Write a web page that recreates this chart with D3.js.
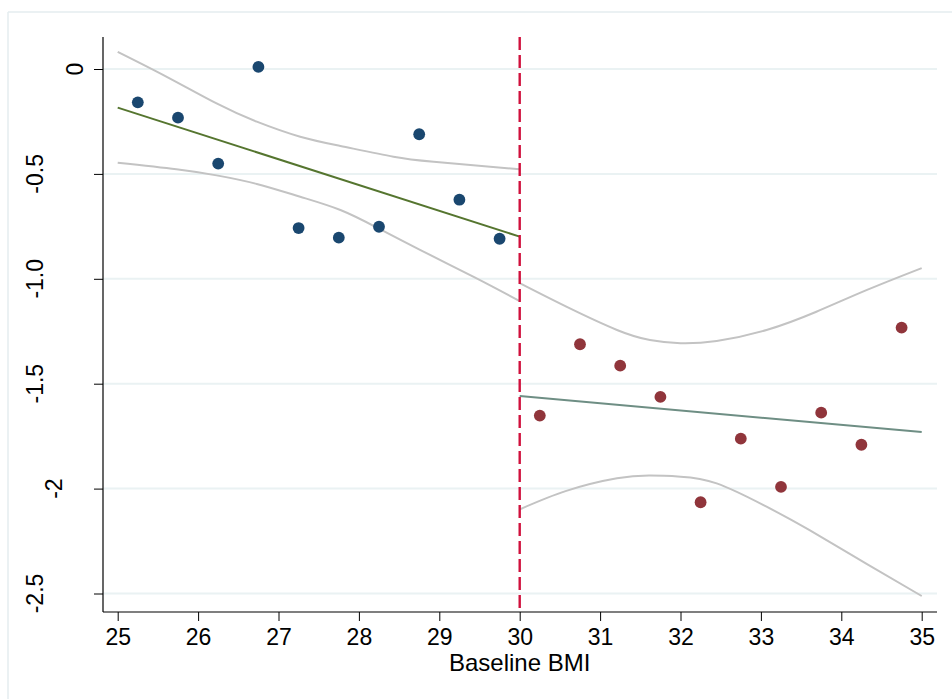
<!DOCTYPE html>
<html>
<head>
<meta charset="utf-8">
<script src="https://cdn.jsdelivr.net/npm/d3@7"></script>
<style>
  html, body { margin: 0; padding: 0; background: #ffffff; }
  svg { display: block; }
  text { font-family: "Liberation Sans", Arial, Helvetica, sans-serif; fill: #000; }
</style>
</head>
<body>
<svg id="chart" width="952" height="699"></svg>
<script>
// ---------- data ----------
const xTicks = [25, 26, 27, 28, 29, 30, 31, 32, 33, 34, 35];
const yTicks = [0, -0.5, -1.0, -1.5, -2, -2.5];
const yTickLabels = ["0", "-0.5", "-1.0", "-1.5", "-2", "-2.5"];
const xLabel = "Baseline BMI";
const cutoff = 30;

const belowX = [25.25, 25.75, 26.25, 26.75, 27.25, 27.75, 28.25, 28.75, 29.25, 29.75];
const belowY = [-0.159, -0.232, -0.451, 0.010, -0.758, -0.804, -0.752, -0.311, -0.623, -0.809];
const aboveX = [30.25, 30.75, 31.25, 31.75, 32.25, 32.75, 33.25, 33.75, 34.25, 34.75];
const aboveY = [-1.652, -1.312, -1.414, -1.563, -2.065, -1.762, -1.992, -1.638, -1.791, -1.233];

const fitBelowX = [25, 30];
const fitBelowY = [-0.184, -0.799];
const fitAboveX = [30, 35];
const fitAboveY = [-1.559, -1.730];

const ciBelowUpX = [25, 25.61, 26.23, 26.73, 27.27, 27.77, 28.43, 28.93, 30];
const ciBelowUpY = [0.082, -0.037, -0.164, -0.251, -0.323, -0.367, -0.418, -0.442, -0.478];
const ciBelowLoX = [25, 25.73, 26.23, 26.73, 27.27, 27.77, 28.22, 28.76, 29.44, 30];
const ciBelowLoY = [-0.447, -0.478, -0.507, -0.548, -0.609, -0.672, -0.755, -0.862, -0.993, -1.106];
const ciAboveUpX = [30, 30.58, 31.21, 31.62, 32.0, 32.45, 33.07, 33.69, 34.32, 35];
const ciAboveUpY = [-1.021, -1.133, -1.244, -1.292, -1.307, -1.296, -1.244, -1.157, -1.053, -0.949];
const ciAboveLoX = [30, 30.58, 31.21, 31.62, 32.0, 32.45, 33.07, 33.6, 34.32, 35];
const ciAboveLoY = [-2.099, -2.011, -1.951, -1.938, -1.943, -1.975, -2.086, -2.197, -2.360, -2.512];

// ---------- layout ----------
const svg = d3.select("#chart");
const plotLeft = 103, plotRight = 937, plotTop = 37, plotBottom = 612;

const x = d3.scaleLinear().domain([25, 35]).range([117.7, 921.7]);
const y = d3.scaleLinear().domain([0, -2.5]).range([69, 593.5]);

// outer frame (light)
svg.append("line").attr("x1", 8).attr("x2", 8).attr("y1", 12).attr("y2", 699)
  .attr("stroke", "#e4ecef").attr("stroke-width", 1.5);
svg.append("line").attr("x1", 8).attr("x2", 952).attr("y1", 12).attr("y2", 12)
  .attr("stroke", "#e4ecef").attr("stroke-width", 1.5);

// gridlines
svg.append("g").selectAll("line").data(yTicks).join("line")
  .attr("x1", plotLeft).attr("x2", plotRight)
  .attr("y1", d => y(d)).attr("y2", d => y(d))
  .attr("stroke", "#eaf2f3").attr("stroke-width", 2);

// y axis
const yAxis = d3.axisLeft(y).tickValues(yTicks).tickSize(9).tickFormat((d, i) => yTickLabels[i]);
const gy = svg.append("g").attr("transform", `translate(${plotLeft},0)`).call(yAxis);
gy.select(".domain").remove();
gy.selectAll(".tick line").attr("stroke", "#000").attr("stroke-width", 1);
gy.selectAll(".tick text").remove();
svg.append("line").attr("x1", plotLeft).attr("x2", plotLeft).attr("y1", plotTop).attr("y2", plotBottom)
  .attr("stroke", "#000").attr("stroke-width", 1.2);
// rotated y labels (baseline position depends on label length, as in the reference)
const baseX = s => s.length === 1 ? 83 : (s.length === 2 ? 62 : 43);
svg.append("g").selectAll("text").data(yTicks).join("text")
  .attr("transform", (d, i) => `translate(${baseX(yTickLabels[i])},${y(d)}) rotate(-90)`)
  .attr("text-anchor", "middle")
  .attr("font-size", 23)
  .text((d, i) => yTickLabels[i]);

// x axis
const xAxis = d3.axisBottom(x).tickValues(xTicks).tickSize(9).tickFormat(d3.format("d"));
const gx = svg.append("g").attr("transform", `translate(0,${plotBottom})`).call(xAxis);
gx.select(".domain").remove();
gx.selectAll(".tick line").attr("stroke", "#000").attr("stroke-width", 1);
gx.selectAll(".tick text").attr("font-size", 23).attr("dy", 0).attr("y", 33)
  .attr("fill", "#000").style("font-family", "'Liberation Sans', Arial, sans-serif");
svg.append("line").attr("x1", plotLeft).attr("x2", plotRight).attr("y1", plotBottom).attr("y2", plotBottom)
  .attr("stroke", "#000").attr("stroke-width", 1.2);

svg.append("text").attr("x", x(cutoff)).attr("y", 671).attr("text-anchor", "middle")
  .attr("font-size", 24).text(xLabel);

// CI lines
const line = d3.line().x(d => x(d[0])).y(d => y(d[1])).curve(d3.curveNatural);
const zip = (a, b) => a.map((v, i) => [v, b[i]]);
[[ciBelowUpX, ciBelowUpY], [ciBelowLoX, ciBelowLoY], [ciAboveUpX, ciAboveUpY], [ciAboveLoX, ciAboveLoY]]
  .forEach(([xs, ys]) => {
    svg.append("path").attr("d", line(zip(xs, ys)))
      .attr("fill", "none").attr("stroke", "#c3c3c3").attr("stroke-width", 2);
  });

// fitted lines
svg.append("path").attr("d", line(zip(fitBelowX, fitBelowY)))
  .attr("fill", "none").attr("stroke", "#55752f").attr("stroke-width", 2);
svg.append("path").attr("d", line(zip(fitAboveX, fitAboveY)))
  .attr("fill", "none").attr("stroke", "#6e8e84").attr("stroke-width", 2);

// points
svg.append("g").selectAll("circle").data(zip(belowX, belowY)).join("circle")
  .attr("cx", d => x(d[0])).attr("cy", d => y(d[1])).attr("r", 5.9).attr("fill", "#1a476f");
svg.append("g").selectAll("circle").data(zip(aboveX, aboveY)).join("circle")
  .attr("cx", d => x(d[0])).attr("cy", d => y(d[1])).attr("r", 5.9).attr("fill", "#90353b");

// cutoff dashed line
svg.append("line").attr("x1", x(cutoff)).attr("x2", x(cutoff)).attr("y1", plotTop).attr("y2", plotBottom)
  .attr("stroke", "#d0103c").attr("stroke-width", 2.4).attr("stroke-dasharray", "13,5");
</script>
</body>
</html>
